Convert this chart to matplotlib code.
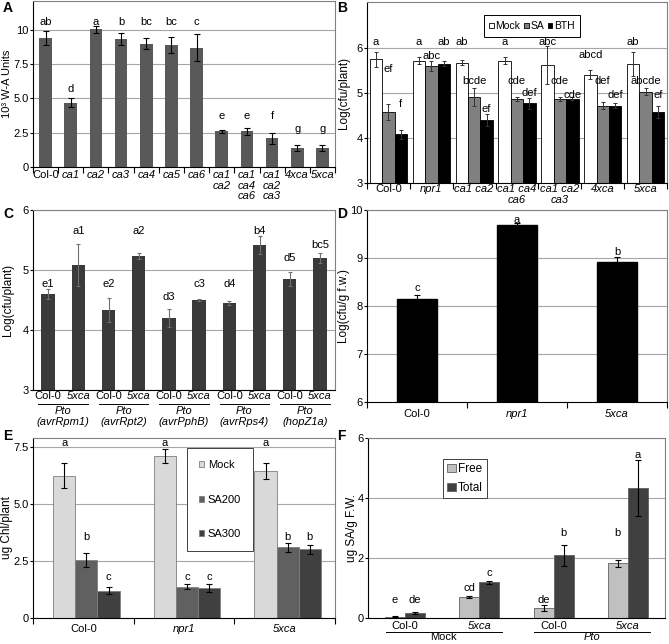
import numpy as np
import matplotlib.pyplot as plt

plt.rcParams['font.family'] = ['Liberation Sans', 'DejaVu Sans']
plt.rcParams['font.size'] = 8

# ---- data ----
# A
a_labels = ['Col-0', 'ca1', 'ca2', 'ca3', 'ca4', 'ca5', 'ca6',
            'ca1\nca2', 'ca1\nca4\nca6', 'ca1\nca2\nca3', '4xca', '5xca']
a_vals = [9.4, 4.7, 10.05, 9.35, 9.0, 8.9, 8.7, 2.6, 2.6, 2.1, 1.4, 1.4]
a_err = [0.5, 0.3, 0.25, 0.45, 0.4, 0.6, 1.0, 0.1, 0.25, 0.4, 0.2, 0.2]
a_letters = ['ab', 'd', 'a', 'b', 'bc', 'bc', 'c', 'e', 'e', 'f', 'g', 'g']
a_letter_y = [10.6, 5.7, 10.6, 10.6, 10.6, 10.6, 10.6, 3.7, 3.7, 3.7, 2.75, 2.75]

# B
b_groups = ['Col-0', 'npr1', 'ca1 ca2', 'ca1 ca4\nca6', 'ca1 ca2\nca3', '4xca', '5xca']
b_series = ['Mock', 'SA', 'BTH']
b_mock = [5.75, 5.72, 5.67, 5.72, 5.62, 5.40, 5.65]
b_mock_err = [0.17, 0.08, 0.06, 0.07, 0.42, 0.10, 0.27]
b_sa = [4.57, 5.60, 4.92, 4.87, 4.87, 4.72, 5.03]
b_sa_err = [0.18, 0.12, 0.20, 0.05, 0.05, 0.08, 0.08]
b_bth = [4.08, 5.65, 4.40, 4.77, 4.87, 4.72, 4.57]
b_bth_err = [0.10, 0.05, 0.13, 0.12, 0.03, 0.06, 0.13]
b_mock_letters = ['a', 'a', 'ab', 'a', 'abc', 'abcd', 'ab']
b_mock_letter_y = [6.13, 6.13, 6.13, 6.13, 6.13, 5.84, 6.13]
b_sa_letters = ['ef', 'abc', 'bcde', 'cde', 'cde', 'def', 'abcde']
b_sa_letter_y = [5.53, 5.82, 5.27, 5.27, 5.27, 5.27, 5.27]
b_bth_letters = ['f', 'ab', 'ef', 'def', 'cde', 'def', 'ef']
b_bth_letter_y = [4.76, 6.13, 4.65, 5.0, 4.96, 4.96, 4.96]

# C
c_labels = ['Col-0', '5xca'] * 5
c_strains = ['(avrRpm1)', '(avrRpt2)', '(avrPphB)', '(avrRps4)', '(hopZ1a)']
c_vals = [4.60, 5.08, 4.33, 5.23, 4.20, 4.50, 4.45, 5.42, 4.85, 5.20]
c_err = [0.08, 0.35, 0.20, 0.05, 0.15, 0.02, 0.04, 0.15, 0.12, 0.08]
c_letters = ['e1', 'a1', 'e2', 'a2', 'd3', 'c3', 'd4', 'b4', 'd5', 'bc5']
c_letter_y = [4.77, 5.65, 4.77, 5.65, 4.55, 4.77, 4.77, 5.65, 5.2, 5.42]

# D
d_labels = ['Col-0', 'npr1', '5xca']
d_vals = [8.15, 9.68, 8.92]
d_err = [0.08, 0.04, 0.10]
d_letters = ['c', 'a', 'b']
d_letter_y = [8.37, 9.8, 9.12]

# E
e_groups = ['Col-0', 'npr1', '5xca']
e_series = ['Mock', 'SA200', 'SA300']
e_mock = [6.25, 7.10, 6.45]
e_mock_err = [0.55, 0.30, 0.35]
e_sa200 = [2.55, 1.38, 3.10]
e_sa200_err = [0.30, 0.10, 0.20]
e_sa300 = [1.20, 1.32, 3.02]
e_sa300_err = [0.15, 0.17, 0.20]
e_mock_letters = ['a', 'a', 'a']
e_mock_letter_y = [7.66, 7.66, 7.66]
e_sa200_letters = ['b', 'c', 'b']
e_sa200_letter_y = [3.54, 1.78, 3.54]
e_sa300_letters = ['c', 'c', 'b']
e_sa300_letter_y = [1.78, 1.78, 3.54]

# F
f_labels = ['Col-0', '5xca', 'Col-0', '5xca']
f_treat = ['Mock', 'Pto']
f_series = ['Free', 'Total']
f_free = [0.05, 0.70, 0.33, 1.83]
f_free_err = [0.01, 0.03, 0.10, 0.12]
f_total = [0.18, 1.20, 2.10, 4.33]
f_total_err = [0.03, 0.05, 0.35, 0.93]
f_free_letters = ['e', 'cd', 'de', 'b']
f_free_letter_y = [0.6, 1.01, 0.6, 2.82]
f_total_letters = ['de', 'c', 'b', 'a']
f_total_letter_y = [0.6, 1.51, 2.82, 5.43]

W, H = 669, 644
fig = plt.figure(figsize=(W / 100, H / 100), dpi=100)


def px_axes(x0, y0, x1, y1):
    return fig.add_axes([x0 / W, 1 - y1 / H, (x1 - x0) / W, (y1 - y0) / H])


def style(ax, ylim, yticks, ylabels=None):
    ax.set_ylim(*ylim)
    ax.set_yticks(yticks)
    if ylabels is not None:
        ax.set_yticklabels(ylabels)
    ax.yaxis.grid(True, color='#a6a6a6', lw=0.8)
    ax.set_axisbelow(True)
    for s in ['top', 'right']:
        ax.spines[s].set_color('#808080')
    for s in ax.spines.values():
        s.set_linewidth(0.8)
    ax.tick_params(axis='y', direction='out', length=2.5, width=0.8, pad=0.5, labelsize=8)


def cat_ticks(ax, labels, italic=True, pad=2):
    n = len(labels)
    ax.set_xlim(-0.5, n - 0.5)
    ax.set_xticks(np.arange(n + 1) - 0.5)
    ax.set_xticklabels([])
    ax.set_xticks(np.arange(n), minor=True)
    ax.set_xticklabels(labels, minor=True, fontsize=8, linespacing=1.1)
    ax.tick_params(axis='x', which='minor', length=0, pad=pad)
    ax.tick_params(axis='x', which='major', length=4, width=0.8, direction='out')
    for t in ax.get_xticklabels(minor=True):
        if italic and t.get_text() != 'Col-0':
            t.set_style('italic')


def ylab(ax, text, xpx, x0px, wpx, size=8.5):
    # xpx: centre of the rotated label, in figure pixels
    ax.set_ylabel(text, fontsize=size, va='center')
    ax.yaxis.set_label_coords((xpx - x0px) / wpx, 0.5)


def letters(ax, xs, texts, ys):
    for x, s, y in zip(xs, texts, ys):
        ax.text(x, y, s, ha='center', va='center', fontsize=8)


ebar = dict(fmt='none', ecolor='k', elinewidth=0.8, capsize=2, capthick=0.8)

# ---- A ----
ax = px_axes(33, 1, 335, 167)
xa = np.arange(len(a_vals))
ax.bar(xa, a_vals, 0.5, color='#595959')
ax.errorbar(xa, a_vals, yerr=a_err, **ebar)
letters(ax, xa, a_letters, a_letter_y)
style(ax, (0, 12.1), [0, 2.5, 5, 7.5, 10], ['0', '2.5', '5.0', '7.5', '10'])
cat_ticks(ax, a_labels)
ylab(ax, '10³ W-A Units', 7.5, 33, 302, size=8)

# ---- B ----
ax = px_axes(367, 2, 667, 183)
xb = np.arange(len(b_groups))
w = 0.29
sets = [(b_mock, b_mock_err, 'white', b_mock_letters, b_mock_letter_y),
        (b_sa, b_sa_err, '#808080', b_sa_letters, b_sa_letter_y),
        (b_bth, b_bth_err, 'black', b_bth_letters, b_bth_letter_y)]
for i, (v, e, c, lt, ly) in enumerate(sets):
    xx = xb + (i - 1) * w
    ax.bar(xx, v, w, color=c, edgecolor='k', lw=0.6, label=b_series[i])
    ax.errorbar(xx, v, yerr=e, fmt='none', ecolor='#333333', elinewidth=0.7,
                capsize=1.5, capthick=0.7)
    letters(ax, xx, lt, ly)
style(ax, (3, 7.02), [3, 4, 5, 6])
cat_ticks(ax, b_groups, pad=1)
ylab(ax, 'Log(cfu/plant)', 344, 367, 300)
ax.legend(loc='upper center', bbox_to_anchor=(0.55, 0.955), ncol=3, fontsize=7.5,
          handlelength=0.45, handleheight=0.45, handletextpad=0.15,
          columnspacing=0.35, borderpad=0.55, fancybox=False,
          edgecolor='k', framealpha=1).get_frame().set_linewidth(0.7)

# ---- C ----
ax = px_axes(33, 210, 335, 390)
xc = np.arange(len(c_vals))
ax.bar(xc, c_vals, 0.45, color='#3a3a3a')
ax.errorbar(xc, c_vals, yerr=c_err, fmt='none', ecolor='#707070',
            elinewidth=0.8, capsize=1.5, capthick=0.8)
letters(ax, xc, c_letters, c_letter_y)
style(ax, (3, 6), [3, 4, 5, 6])
cat_ticks(ax, c_labels, pad=1)
ax.tick_params(axis='x', which='major', length=0)
ylab(ax, 'Log(cfu/plant)', 8, 33, 302)
tr = ax.get_xaxis_transform()
for k, s in enumerate(c_strains):
    cx = 2 * k + 0.5
    ax.plot([cx - 0.82, cx + 0.82], [-0.075, -0.075], color='k', lw=0.7,
            transform=tr, clip_on=False)
    ax.text(cx, -0.118, 'Pto', transform=tr, ha='center', va='center',
            style='italic', fontsize=8)
    ax.text(cx, -0.178, s, transform=tr, ha='center', va='center',
            style='italic', fontsize=8)

# ---- D ----
ax = px_axes(367, 210, 667, 402)
xd = np.arange(len(d_vals))
ax.bar(xd, d_vals, 0.4, color='black', edgecolor='k')
ax.errorbar(xd, d_vals, yerr=[np.zeros(len(d_err)), d_err], **ebar)
letters(ax, xd, d_letters, d_letter_y)
style(ax, (6, 10), [6, 7, 8, 9, 10])
cat_ticks(ax, d_labels, pad=5)
ylab(ax, 'Log(cfu/g f.w.)', 344, 367, 300)

# ---- E ----
ax = px_axes(33, 438, 335, 618)
xe = np.arange(len(e_groups))
w = 0.22
sets = [(e_mock, e_mock_err, '#d9d9d9', e_mock_letters, e_mock_letter_y),
        (e_sa200, e_sa200_err, '#606060', e_sa200_letters, e_sa200_letter_y),
        (e_sa300, e_sa300_err, '#404040', e_sa300_letters, e_sa300_letter_y)]
for i, (v, e, c, lt, ly) in enumerate(sets):
    xx = xe + 0.03 + (i - 1) * w
    ax.bar(xx, v, w, color=c, edgecolor='#7f7f7f', lw=0.6, label=e_series[i])
    ax.errorbar(xx, v, yerr=e, **ebar)
    letters(ax, xx, lt, ly)
style(ax, (0, 7.9), [0, 2.5, 5, 7.5], ['0', '2.5', '5.0', '7.5'])
cat_ticks(ax, e_groups, pad=4)
ylab(ax, 'ug Chl/plant', 7, 33, 302)
ax.legend(loc='upper left', bbox_to_anchor=(0.49, 0.975), fontsize=8,
          handlelength=0.45, handleheight=0.45, handletextpad=0.35,
          labelspacing=2.2, borderpad=1.1, fancybox=False,
          edgecolor='#404040', framealpha=1).get_frame().set_linewidth(0.7)

# ---- F ----
ax = px_axes(368, 438, 665, 618)
xf = np.arange(len(f_labels))
w = 0.27
sets = [(f_free, f_free_err, '#c0c0c0', f_free_letters, f_free_letter_y),
        (f_total, f_total_err, '#404040', f_total_letters, f_total_letter_y)]
for i, (v, e, c, lt, ly) in enumerate(sets):
    xx = xf + (i - 0.5) * w
    ax.bar(xx, v, w, color=c, edgecolor='#606060', lw=0.6, label=f_series[i])
    ax.errorbar(xx, v, yerr=e, **ebar)
    letters(ax, xx, lt, ly)
style(ax, (0, 6), [0, 2, 4, 6])
cat_ticks(ax, f_labels, pad=2.5)
ax.tick_params(axis='x', which='major', length=0)
ylab(ax, 'ug SA/g F.W.', 352, 368, 297)
tr = ax.get_xaxis_transform()
for k, s in enumerate(f_treat):
    cx = 2 * k + 0.52
    ax.plot([cx - 0.78, cx + 0.78], [-0.078, -0.078], color='k', lw=0.7,
            transform=tr, clip_on=False)
    ax.text(cx, -0.106, s, transform=tr, ha='center', va='center',
            style='italic' if s == 'Pto' else 'normal', fontsize=8)
ax.legend(loc='upper left', bbox_to_anchor=(0.232, 0.917), fontsize=8.5,
          handlelength=0.75, handleheight=0.75, handletextpad=0.15,
          labelspacing=0.6, borderpad=0.35, fancybox=False,
          edgecolor='#404040', framealpha=1).get_frame().set_linewidth(0.7)

# panel letters
for s, x, y in [('A', 3, 8), ('B', 337, 8), ('C', 3, 214),
                ('D', 337, 214), ('E', 3, 436), ('F', 337, 436)]:
    fig.text(x / W, 1 - y / H, s, fontsize=10, weight='bold', va='center')

fig.savefig('out.png', dpi=100)
